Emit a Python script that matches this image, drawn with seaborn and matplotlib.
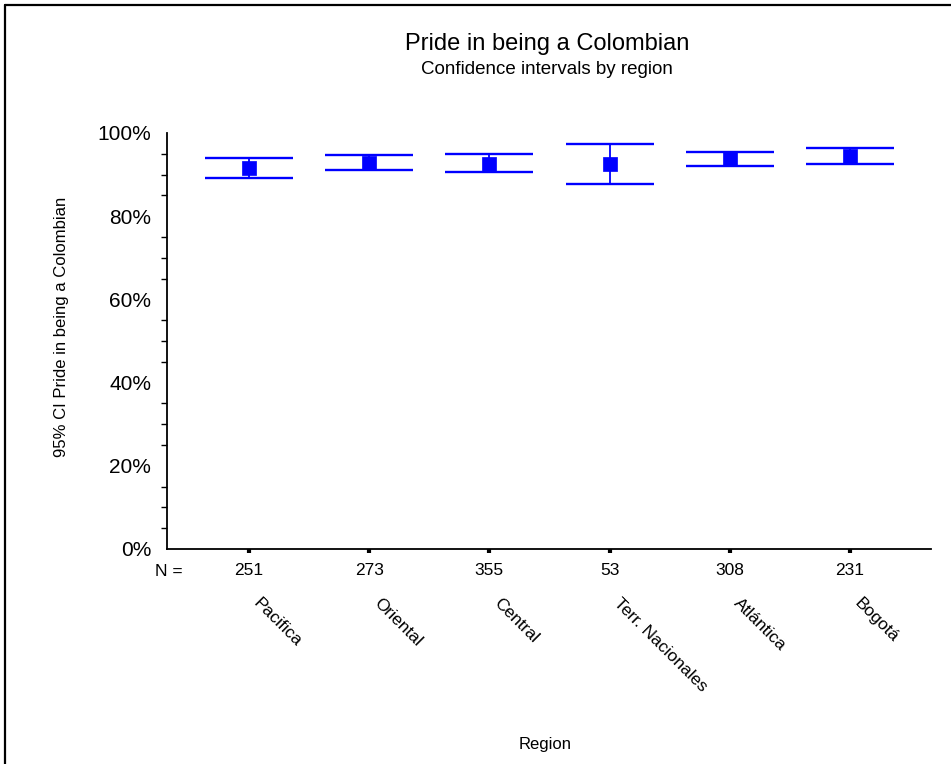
import matplotlib
matplotlib.use("Agg")
import matplotlib.pyplot as plt
import matplotlib.transforms as mtransforms
from matplotlib.lines import Line2D
from matplotlib.ticker import MultipleLocator, FuncFormatter
import seaborn as sns
import pandas as pd

# Pride in being a Colombian: mean and 95% confidence interval per region
regions = ["Pacifica", "Oriental", "Central", "Terr. Nacionales", "Atlántica", "Bogotá"]
n_cases = [251, 273, 355, 53, 308, 231]
mean_pct = [91.7, 92.9, 92.5, 92.6, 93.8, 94.5]
lower_pct = [89.3, 91.2, 90.7, 87.8, 92.1, 92.6]
upper_pct = [94.1, 94.6, 95.0, 97.4, 95.5, 96.5]

df = pd.DataFrame({
    "pos": range(len(regions)),
    "region": regions,
    "n": n_cases,
    "mean": mean_pct,
    "lower": lower_pct,
    "upper": upper_pct,
})

sns.set_style("white")
plt.rcParams["font.family"] = ["Liberation Sans", "DejaVu Sans"]
plt.rcParams["text.color"] = "black"
plt.rcParams["axes.labelcolor"] = "black"

W, H = 951, 764
fig = plt.figure(figsize=(W / 100, H / 100), dpi=100)
fig.patch.set_facecolor("white")

ax_left, ax_right, ax_top, ax_bottom = 167, 931, 133, 549
ax = fig.add_axes([ax_left / W, 1 - ax_bottom / H,
                   (ax_right - ax_left) / W, (ax_bottom - ax_top) / H])

blue = "#0000ff"
ax.errorbar(df["pos"], df["mean"],
            yerr=[df["mean"] - df["lower"], df["upper"] - df["mean"]],
            fmt="none", ecolor=blue, elinewidth=1.3, capsize=31.5, capthick=1.7,
            zorder=2)
sns.scatterplot(data=df, x="pos", y="mean", marker="s", s=95, color=blue,
                edgecolor=blue, linewidth=0.5, ax=ax, zorder=3, legend=False)

ax.set_xlim(-0.682, 5.674)
ax.set_ylim(0, 100)

ax.yaxis.set_major_locator(MultipleLocator(20))
ax.yaxis.set_minor_locator(MultipleLocator(5))
ax.yaxis.set_major_formatter(FuncFormatter(lambda v, p: f"{v:.0f}%"))
ax.tick_params(axis="y", which="major", direction="out", length=3.5, width=2.2,
               labelsize=15, pad=8, color="black", labelcolor="black")
ax.tick_params(axis="y", which="minor", direction="out", length=4, width=1,
               color="black", left=True)

ax.set_xticks(df["pos"])
ax.set_xticklabels([str(v) for v in df["n"]])
ax.tick_params(axis="x", which="major", direction="out", length=3, width=3,
               labelsize=12.5, pad=7, color="black", labelcolor="black", bottom=True)

for side in ("top", "right"):
    ax.spines[side].set_visible(False)
for side in ("left", "bottom"):
    ax.spines[side].set_color("black")
    ax.spines[side].set_linewidth(1.3)

ax.set_xlabel("")
ax.set_ylabel("")

# Region names under the case counts, slanted downward
trans = mtransforms.blended_transform_factory(ax.transData, ax.transAxes)
for i, name in enumerate(regions):
    ax.text(i + 0.1, -0.112, name, transform=trans, rotation=-45,
            rotation_mode="anchor", ha="left", va="top", fontsize=12.5,
            color="black")

fig.text(183 / W, 1 - 571 / H, "N =", ha="right", va="center", fontsize=12.5)
fig.text(62 / W, 1 - 327 / H, "95% CI Pride in being a Colombian",
         rotation=90, ha="center", va="center", fontsize=12)
fig.text(545 / W, 1 - 745 / H, "Region", ha="center", va="center", fontsize=12)

fig.text(547 / W, 1 - 44 / H, "Pride in being a Colombian", ha="center",
         va="center", fontsize=17)
fig.text(547 / W, 1 - 70 / H, "Confidence intervals by region", ha="center",
         va="center", fontsize=13.5)

# Outer frame along the top and left edges
fig.add_artist(Line2D([5 / W, 1], [1 - 5 / H, 1 - 5 / H],
                      transform=fig.transFigure, color="black", linewidth=1.6))
fig.add_artist(Line2D([5 / W, 5 / W], [0, 1 - 5 / H],
                      transform=fig.transFigure, color="black", linewidth=1.6))

fig.savefig("out.png", dpi=100, facecolor="white")
